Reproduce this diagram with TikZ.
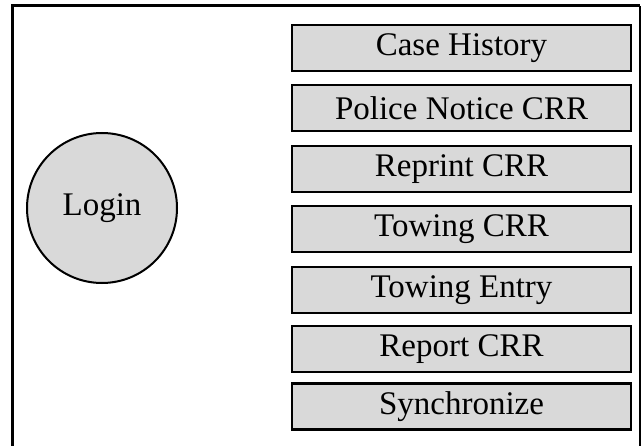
\documentclass[tikz,border=0pt]{standalone}
\usepackage{fontspec}
\setmainfont{Liberation Serif}
\definecolor{boxgray}{HTML}{D9D9D9}
\begin{document}
\begin{tikzpicture}[x=1pt,y=-1pt,
  menubox/.style={draw=black, fill=boxgray, line width=2.7pt, minimum width=339pt, minimum height=46pt, inner sep=0pt, font=\fontsize{33}{38}\selectfont},
  logincircle/.style={circle, draw=black, fill=boxgray, line width=2pt, minimum size=150pt, inner sep=0pt, font=\fontsize{33}{38}\selectfont}]
\useasboundingbox (0,0) rectangle (642,446);
\coordinate (fl) at (12,446);
\coordinate (ftl) at (12,6);
\coordinate (ftr) at (640,6);
\coordinate (fr) at (640,446);
\draw[line width=3pt] (fl) -- (ftl) -- (ftr);
\draw[line width=2pt] (ftr) -- (fr);
\node[logincircle] (login) at (102,208) {Login};
\node[menubox] (b1) at (461.5,48) {Case History};
\node[menubox] (b2) at (461.5,108) {Police Notice CRR};
\node[menubox] (b3) at (461.5,169) {Reprint CRR};
\node[menubox] (b4) at (461.5,229) {Towing CRR};
\node[menubox] (b5) at (461.5,290) {Towing Entry};
\node[menubox] (b6) at (461.5,349) {Report CRR};
\node[menubox] (b7) at (461.5,406.5) {Synchronize};
\end{tikzpicture}
\end{document}
